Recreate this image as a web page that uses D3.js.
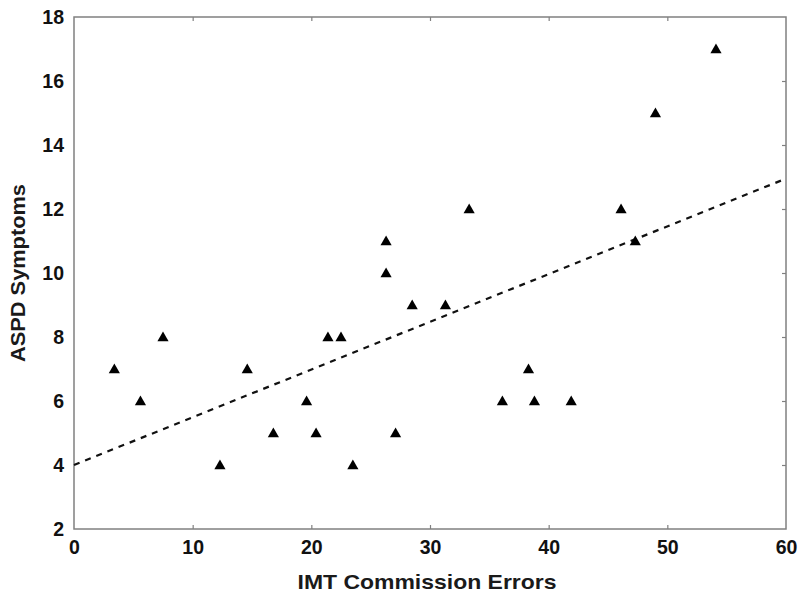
<!DOCTYPE html>
<html>
<head>
<meta charset="utf-8">
<script src="https://cdnjs.cloudflare.com/ajax/libs/d3/7.8.5/d3.min.js"></script>
<style>
	body { margin: 0; background: #fff; }
	text { font-family: "Liberation Sans", Arial, sans-serif; font-weight: bold; }
</style>
</head>
<body>
<div id="vis"></div>
<script>

// scatter values
var imtErrors = [3.4, 5.6, 7.5, 12.3, 14.6, 16.8, 19.6, 20.4, 21.4, 22.5, 23.5, 26.3, 26.3, 27.1, 28.5, 31.3, 33.3, 36.1, 38.3, 38.8, 41.9, 46.1, 47.3, 49.0, 54.1];
var aspdSymptoms = [7, 6, 8, 4, 7, 5, 6, 5, 8, 8, 4, 11, 10, 5, 9, 9, 12, 6, 7, 6, 6, 12, 11, 15, 17];

// fitted line end points
var trendX = [0, 60];
var trendY = [4.0, 12.95];

var xTicks = [0, 10, 20, 30, 40, 50, 60];
var yTicks = [2, 4, 6, 8, 10, 12, 14, 16, 18];

var w = 800, h = 604;
var margin = {top: 17, right: 14, bottom: 75, left: 74};

var svg = d3.select("#vis").append("svg")
.attr("width", w)
.attr("height", h);

var x = d3.scaleLinear().domain([0, 60]).range([margin.left, w - margin.right]);
var y = d3.scaleLinear().domain([2, 18]).range([h - margin.bottom, margin.top]);

var axisColour = "#808080";

//frame ticks point inward on every side, labels only bottom and left
function styleAxis (g) {
	g.select(".domain").remove();
	g.selectAll(".tick line").attr("stroke", axisColour).attr("stroke-width", 1.2);
	g.selectAll(".tick text").attr("fill", "#111").attr("font-size", 19.5);
}

svg.append("g")
.attr("transform", "translate(0," + y(2) + ")")
.call(d3.axisBottom(x).tickValues(xTicks).tickSize(-4))
.call(styleAxis)
.call(function (g) {
	g.selectAll(".tick text").attr("dy", "0.71em").attr("y", 11);
	g.selectAll(".tick").filter(function (d) { return d === 0 || d === 60; }).select("line").remove();
});

svg.append("g")
.attr("transform", "translate(" + x(0) + ",0)")
.call(d3.axisLeft(y).tickValues(yTicks).tickSize(0).tickPadding(10))
.call(styleAxis);

svg.append("g")
.attr("transform", "translate(0," + y(18) + ")")
.call(d3.axisTop(x).tickValues(xTicks.slice(1, -1)).tickSize(-4).tickFormat(""))
.call(styleAxis);

svg.append("g")
.attr("transform", "translate(" + x(60) + ",0)")
.call(d3.axisRight(y).tickValues(yTicks.slice(1, -1)).tickSize(-4).tickFormat(""))
.call(styleAxis);

// plot frame
svg.append("rect")
.attr("x", x(0))
.attr("y", y(18))
.attr("width", x(60) - x(0))
.attr("height", y(2) - y(18))
.attr("fill", "none")
.attr("stroke", axisColour)
.attr("stroke-width", 1.5);

var line = d3.line()
.x(function (d) { return x(d[0]); })
.y(function (d) { return y(d[1]); });

svg.append("path")
.datum(d3.zip(trendX, trendY))
.attr("d", line)
.attr("fill", "none")
.attr("stroke", "#111")
.attr("stroke-width", 2.2)
.attr("stroke-dasharray", "6,6");

var tri = d3.symbol().type(d3.symbolTriangle).size(54);

svg.append("g").selectAll("path")
.data(d3.zip(imtErrors, aspdSymptoms))
.enter()
.append("path")
.attr("d", tri)
.attr("transform", function (d) {
	return "translate(" + x(d[0]) + "," + (y(d[1]) + 1) + ")";
})
.attr("fill", "#000");

svg.append("text")
.attr("x", (x(0) + x(60)) / 2 - 3)
.attr("y", 589)
.attr("text-anchor", "middle")
.attr("font-size", 21)
.attr("textLength", 259)
.attr("lengthAdjust", "spacingAndGlyphs")
.attr("fill", "#1a1a1a")
.text("IMT Commission Errors");

svg.append("text")
.attr("transform", "translate(25," + ((y(2) + y(18)) / 2) + ") rotate(-90)")
.attr("text-anchor", "middle")
.attr("font-size", 21)
.attr("textLength", 178)
.attr("lengthAdjust", "spacingAndGlyphs")
.attr("fill", "#1a1a1a")
.text("ASPD Symptoms");

</script>
</body>
</html>
